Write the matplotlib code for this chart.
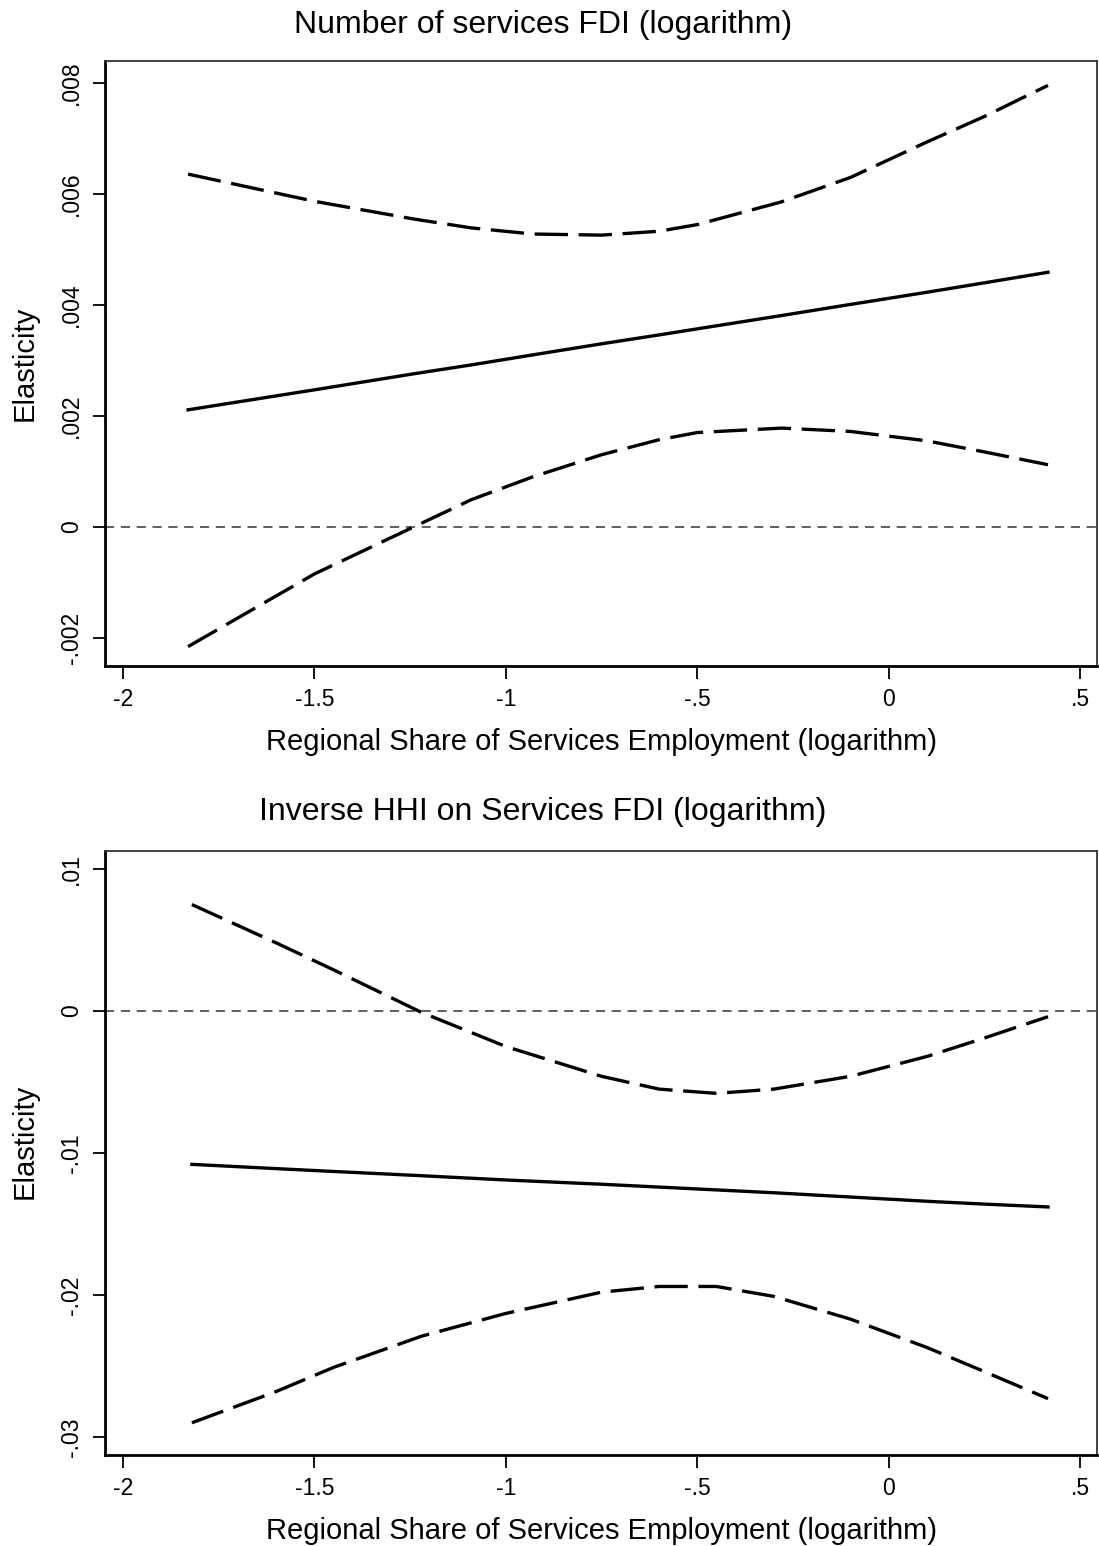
import matplotlib
matplotlib.use("Agg")
import matplotlib.pyplot as plt

plt.rcParams['font.family'] = ['Liberation Sans', 'DejaVu Sans']

# ---- Data: top panel (Number of services FDI) ----
x_top = [-1.83, -1.50, -1.24, -1.09, -0.93, -0.75, -0.60, -0.50, -0.28, -0.10, 0.10, 0.25, 0.416]
center_top = [0.00211, 0.00247, 0.00276, 0.00292, 0.00310, 0.00330, 0.00346, 0.00357, 0.00381, 0.00401, 0.00423, 0.00440, 0.00459]
upper_top = [0.00636, 0.00587, 0.00555, 0.00539, 0.00528, 0.00526, 0.00533, 0.00545, 0.00586, 0.00630, 0.00694, 0.00740, 0.00796]
lower_top = [-0.00216, -0.00085, 0.00000, 0.00049, 0.00090, 0.00130, 0.00157, 0.00170, 0.00178, 0.00172, 0.00155, 0.00135, 0.00112]

# ---- Data: bottom panel (Inverse HHI on Services FDI) ----
x_bot = [-1.82, -1.60, -1.45, -1.22, -1.00, -0.75, -0.60, -0.45, -0.30, -0.10, 0.10, 0.25, 0.416]
center_bot = [-0.0108, -0.0111, -0.0113, -0.0116, -0.0119, -0.0122, -0.0124, -0.0126, -0.0128, -0.0131, -0.0134, -0.0136, -0.0138]
upper_bot = [0.0075, 0.0048, 0.0029, -0.0001, -0.0025, -0.0046, -0.0055, -0.0058, -0.0055, -0.0046, -0.0032, -0.0019, -0.0004]
lower_bot = [-0.0290, -0.0268, -0.0251, -0.0229, -0.0213, -0.0198, -0.0194, -0.0194, -0.0201, -0.0217, -0.0237, -0.0254, -0.0273]

x_ticks = [-2, -1.5, -1, -0.5, 0, 0.5]
x_ticklabels = ["-2", "-1.5", "-1", "-.5", "0", ".5"]
y_ticks_top = [-0.002, 0, 0.002, 0.004, 0.006, 0.008]
y_ticklabels_top = ["-.002", "0", ".002", ".004", ".006", ".008"]
y_ticks_bot = [-0.03, -0.02, -0.01, 0, 0.01]
y_ticklabels_bot = ["-.03", "-.02", "-.01", "0", ".01"]

titles = ["Number of services FDI (logarithm)", "Inverse HHI on Services FDI (logarithm)"]
xlabel = "Regional Share of Services Employment (logarithm)"
ylabel = "Elasticity"

W, H = 1099, 1546
fig = plt.figure(figsize=(W / 100, H / 100), dpi=100)
fig.patch.set_facecolor("white")


def frac_rect(left, top, right, bottom):
    return [left / W, 1 - bottom / H, (right - left) / W, (bottom - top) / H]


ax1 = fig.add_axes(frac_rect(105, 61, 1097, 666))
ax2 = fig.add_axes(frac_rect(105, 851, 1097, 1455))

panels = [
    (ax1, x_top, center_top, upper_top, lower_top, y_ticks_top, y_ticklabels_top, (-0.00251, 0.0084), 0.5),
    (ax2, x_bot, center_bot, upper_bot, lower_bot, y_ticks_bot, y_ticklabels_bot, (-0.03127, 0.01127), 0.52),
]

for ax, xs, c, u, l, yt, ytl, ylim, ylab_y in panels:
    ax.axhline(0, color="#444444", lw=1.2, ls=(0, (5.5, 4)), zorder=1)
    ax.plot(xs, u, color="black", lw=2.4, ls=(0, (10, 3.2)), zorder=3)
    ax.plot(xs, l, color="black", lw=2.4, ls=(0, (10, 3.2)), zorder=3)
    ax.plot(xs, c, color="black", lw=2.4, ls="-", zorder=3)
    ax.set_xlim(-2.047, 0.544)
    ax.set_ylim(*ylim)
    ax.set_xticks(x_ticks)
    ax.set_xticklabels(x_ticklabels, fontsize=16.5)
    ax.set_yticks(yt)
    ax.set_yticklabels(ytl, fontsize=16.5, rotation=90, va="center")
    ax.tick_params(axis="both", direction="out", length=9, width=1.3, pad=7, colors="black")
    for side in ["left", "bottom"]:
        ax.spines[side].set_linewidth(2.0)
        ax.spines[side].set_color("black")
    for side in ["top", "right"]:
        ax.spines[side].set_linewidth(1.3)
        ax.spines[side].set_color("#333333")
    ax.set_xlabel(xlabel, fontsize=21)
    ax.xaxis.label.set_verticalalignment("center")
    ax.xaxis.set_label_coords(0.5, -(742 - 666) / 605)
    ax.set_ylabel(ylabel, fontsize=21)
    ax.yaxis.label.set_verticalalignment("center")
    ax.yaxis.set_label_coords(-(105 - 25) / 992, ylab_y)

fig.text(543 / W, 1 - 25 / H, titles[0], ha="center", va="center", fontsize=23)
fig.text(543 / W, 1 - 812 / H, titles[1], ha="center", va="center", fontsize=23)

fig.savefig("out.png", dpi=100, facecolor="white")
